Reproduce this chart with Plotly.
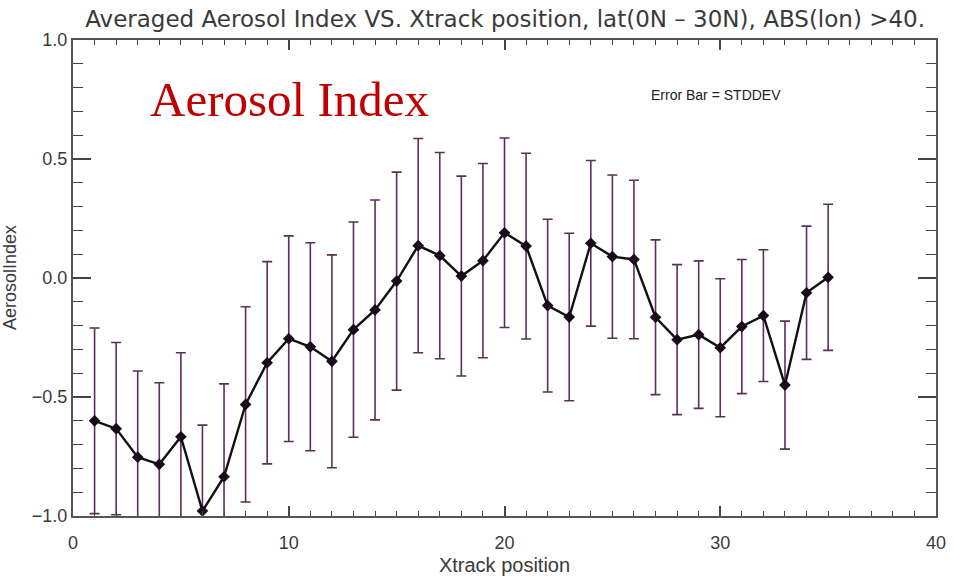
import plotly.graph_objects as go

# Cross-track position index
xtrack = list(range(1, 36))

# Mean aerosol index per cross-track position
ai_mean = [-0.600, -0.633, -0.753, -0.783, -0.667, -0.979, -0.835, -0.531, -0.356, -0.255,
           -0.289, -0.350, -0.217, -0.134, -0.013, 0.136, 0.094, 0.008, 0.073, 0.190,
           0.134, -0.116, -0.164, 0.146, 0.090, 0.078, -0.165, -0.259, -0.238, -0.293,
           -0.204, -0.158, -0.450, -0.062, 0.003]

# Standard deviation (error bar half-length)
ai_std = [0.390, 0.362, 0.362, 0.343, 0.353, 0.361, 0.390, 0.410, 0.425, 0.432,
          0.437, 0.447, 0.452, 0.462, 0.458, 0.450, 0.433, 0.420, 0.408, 0.398,
          0.390, 0.363, 0.352, 0.348, 0.343, 0.333, 0.325, 0.315, 0.310, 0.290,
          0.282, 0.277, 0.269, 0.280, 0.307]

title_text = "Averaged Aerosol Index VS. Xtrack position, lat(0N \u2013 30N), ABS(lon) >40."
axis_font = "Liberation Sans, Arial, sans-serif"
title_font = "DejaVu Sans, Liberation Sans, sans-serif"
ink = "#3a3a3a"

fig = go.Figure()

fig.add_trace(go.Scatter(
    x=xtrack, y=ai_mean,
    mode="lines+markers",
    line=dict(color="#111111", width=2.4),
    marker=dict(symbol="diamond", size=9, color="#1a0a1a"),
    error_y=dict(type="data", array=ai_std, visible=True,
                 color="#5a2f5a", thickness=1.6, width=5),
    showlegend=False,
    cliponaxis=False,
))

axis_common = dict(
    showline=True, linecolor="#555555", linewidth=2, mirror="allticks",
    ticks="inside", tickcolor="#444444", tickwidth=1.5,
    showgrid=False, zeroline=False, automargin=False,
    tickfont=dict(family=axis_font, size=18, color=ink),
)

fig.update_xaxes(
    range=[0, 40], tick0=0, dtick=10, ticklen=10, ticklabelstandoff=9,
    minor=dict(ticks="inside", dtick=1, ticklen=5, tickcolor="#444444", tickwidth=1.2, showgrid=False),
    title=dict(text="Xtrack position", font=dict(family=axis_font, size=20, color=ink), standoff=6),
    **axis_common,
)
fig.update_yaxes(
    range=[-1, 1], tick0=-1, dtick=0.5, ticklen=18, tickformat=".1f",
    minor=dict(ticks="inside", dtick=0.1, ticklen=10, tickcolor="#444444", tickwidth=1.2, showgrid=False),
    **axis_common,
)

fig.update_layout(
    width=953, height=577,
    margin=dict(l=73, r=17, t=40, b=61),
    paper_bgcolor="white", plot_bgcolor="white",
    title=dict(text=title_text, x=0.53, xanchor="center", y=0.968, yanchor="middle",
               font=dict(family=title_font, size=23, color=ink)),
    annotations=[
        dict(text="AerosolIndex", xref="paper", yref="paper", x=0, y=0.5,
             xanchor="center", yanchor="middle", xshift=-63, textangle=-90, showarrow=False,
             font=dict(family=axis_font, size=18, color=ink)),
        dict(text="Aerosol Index", xref="paper", yref="paper", x=0.087, y=0.875,
             xanchor="left", yanchor="middle", showarrow=False,
             font=dict(family="Liberation Serif, DejaVu Serif, serif", size=49, color="#c00000")),
        dict(text="Error Bar = STDDEV", xref="paper", yref="paper", x=0.667, y=0.885,
             xanchor="left", yanchor="middle", showarrow=False,
             font=dict(family=axis_font, size=14, color="#222222")),
    ],
)

fig.write_html("out.html")
